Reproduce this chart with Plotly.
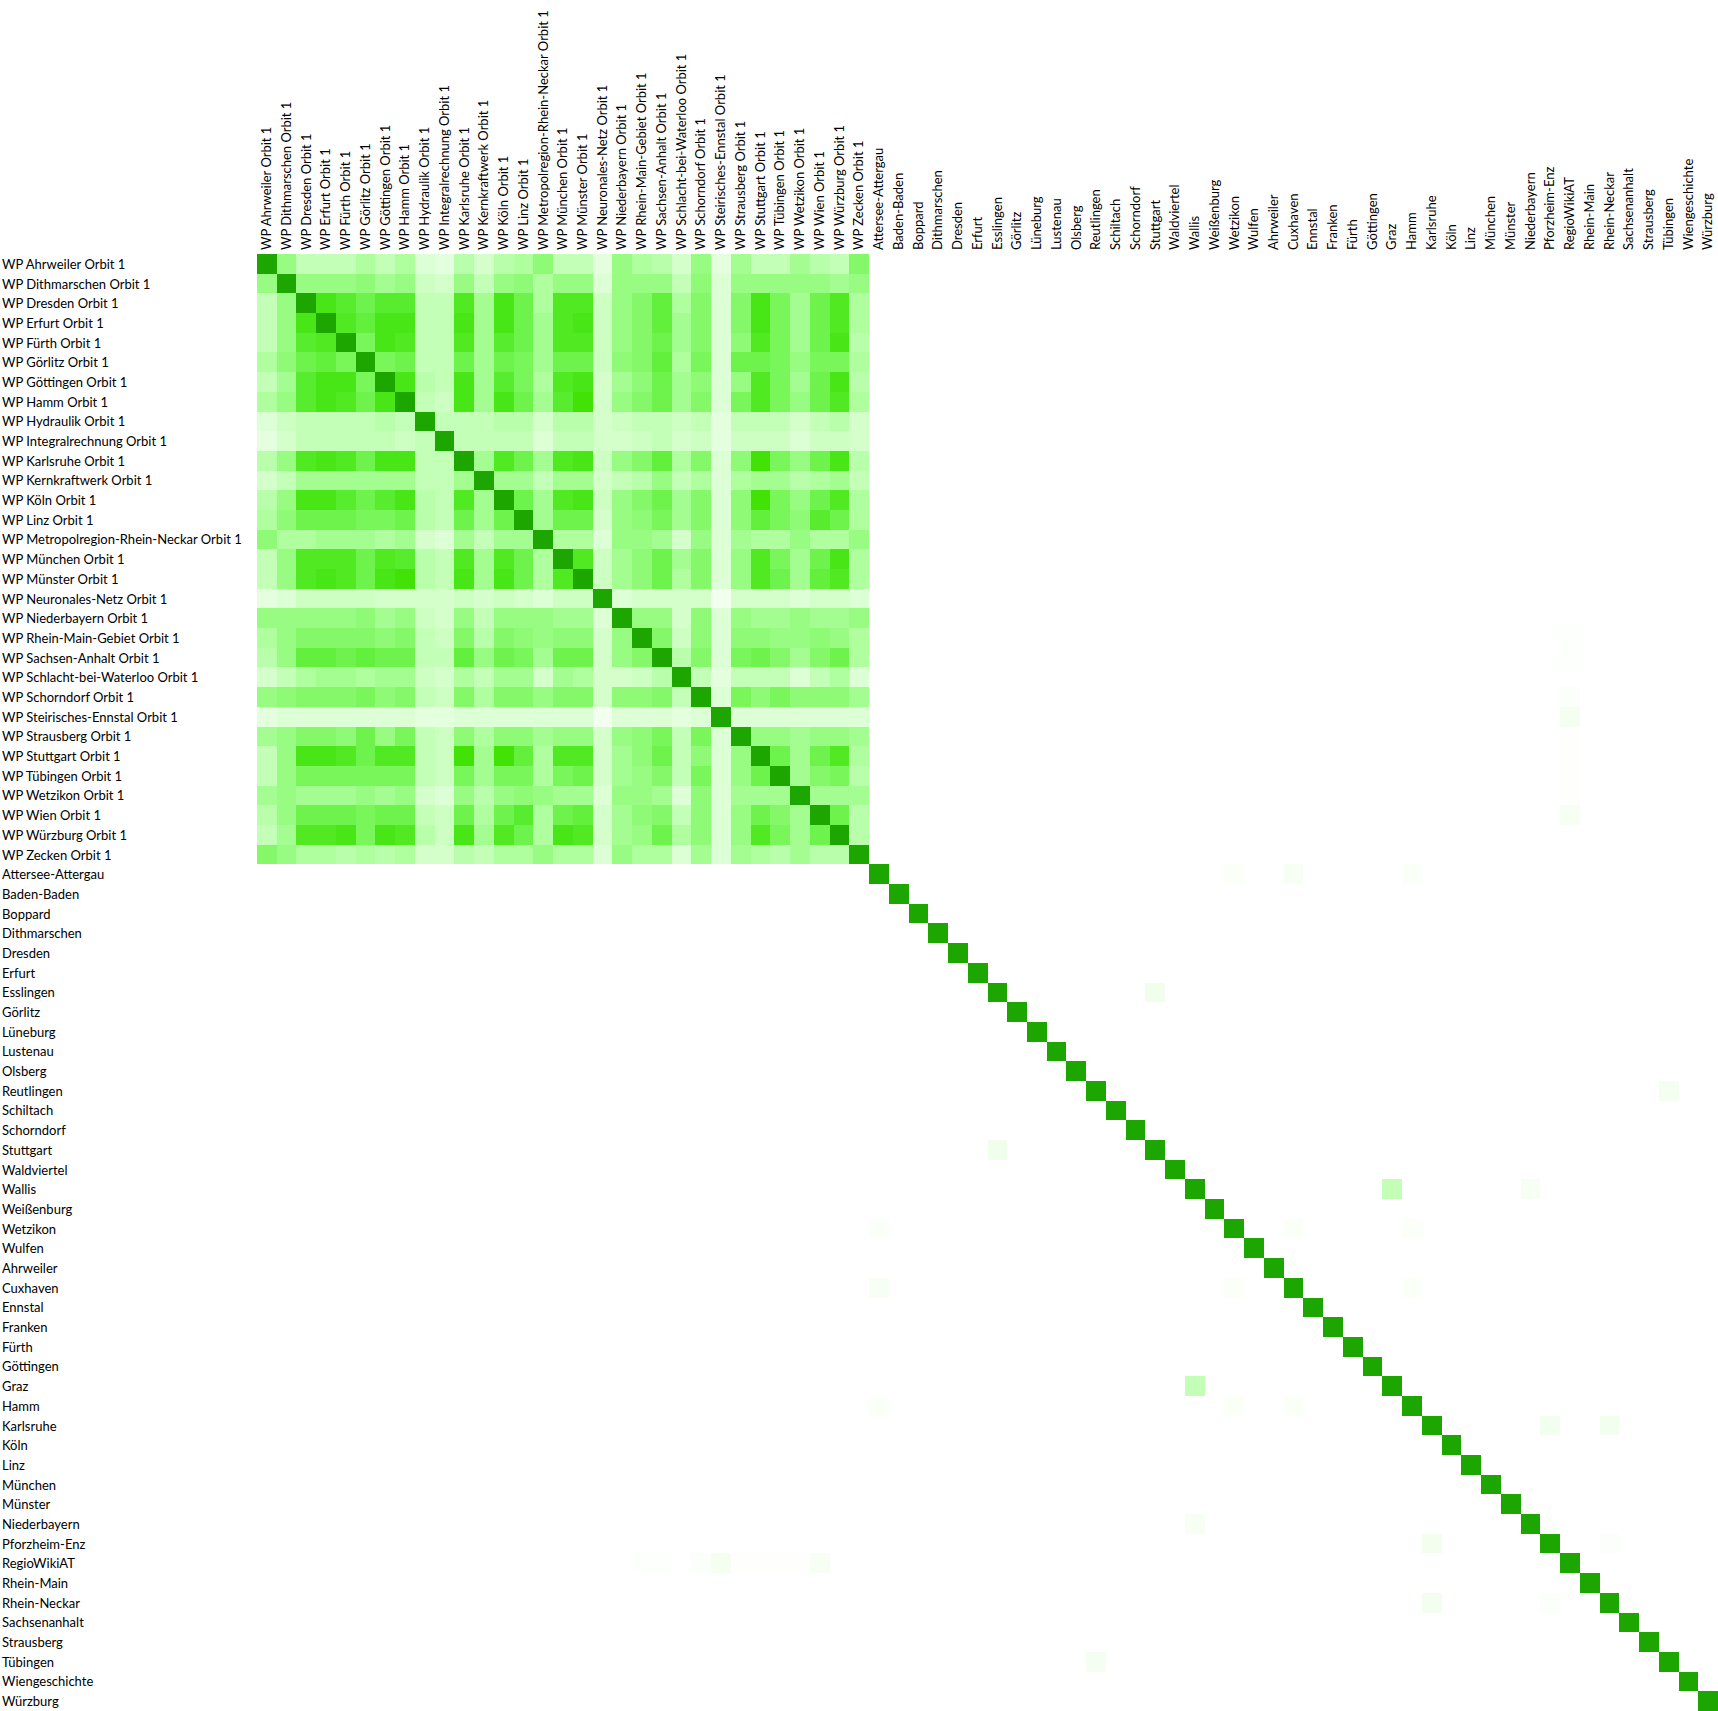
import plotly.graph_objects as go

wp_labels = [
    "WP Ahrweiler Orbit 1", "WP Dithmarschen Orbit 1", "WP Dresden Orbit 1", "WP Erfurt Orbit 1",
    "WP Fürth Orbit 1", "WP Görlitz Orbit 1", "WP Göttingen Orbit 1", "WP Hamm Orbit 1",
    "WP Hydraulik Orbit 1", "WP Integralrechnung Orbit 1", "WP Karlsruhe Orbit 1",
    "WP Kernkraftwerk Orbit 1", "WP Köln Orbit 1", "WP Linz Orbit 1",
    "WP Metropolregion-Rhein-Neckar Orbit 1", "WP München Orbit 1", "WP Münster Orbit 1",
    "WP Neuronales-Netz Orbit 1", "WP Niederbayern Orbit 1", "WP Rhein-Main-Gebiet Orbit 1",
    "WP Sachsen-Anhalt Orbit 1", "WP Schlacht-bei-Waterloo Orbit 1", "WP Schorndorf Orbit 1",
    "WP Steirisches-Ennstal Orbit 1", "WP Strausberg Orbit 1", "WP Stuttgart Orbit 1",
    "WP Tübingen Orbit 1", "WP Wetzikon Orbit 1", "WP Wien Orbit 1", "WP Würzburg Orbit 1",
    "WP Zecken Orbit 1",
]
wiki_labels = [
    "Attersee-Attergau", "Baden-Baden", "Boppard", "Dithmarschen", "Dresden", "Erfurt",
    "Esslingen", "Görlitz", "Lüneburg", "Lustenau", "Olsberg", "Reutlingen", "Schiltach",
    "Schorndorf", "Stuttgart", "Waldviertel", "Wallis", "Weißenburg", "Wetzikon", "Wulfen",
    "Ahrweiler", "Cuxhaven", "Ennstal", "Franken", "Fürth", "Göttingen", "Graz", "Hamm",
    "Karlsruhe", "Köln", "Linz", "München", "Münster", "Niederbayern", "Pforzheim-Enz",
    "RegioWikiAT", "Rhein-Main", "Rhein-Neckar", "Sachsenanhalt", "Strausberg", "Tübingen",
    "Wiengeschichte", "Würzburg",
]
labels = wp_labels + wiki_labels

# similarity inside the WP block, upper triangle per row (row i, columns i+1..30), in tenths
wp_upper = [
    [5, 3, 3, 3, 4, 3, 4, 1.5, 1, 3.5, 2, 3.5, 4, 5.5, 3, 3, 1, 5, 4, 3.5, 2, 5, 1, 4.5, 3, 3, 4.5, 3.5, 3, 6],
    [5, 5, 5, 5.5, 4.5, 5, 2.5, 2, 5, 3, 5, 5.5, 4, 5, 5, 1.5, 5, 5, 5, 3, 5.5, 1.5, 5, 5, 5, 5, 5, 4.5, 5],
    [9, 8, 7, 8, 8, 3, 3, 8.5, 4.5, 9, 7, 4, 8.5, 8.5, 2.5, 5, 6, 7.5, 4, 6, 1.5, 6, 9, 6.5, 4.5, 7, 8.5, 4],
    [8.5, 7.5, 9, 9, 3, 3, 9, 4.5, 9, 7, 4.5, 8.5, 9, 2.5, 5, 6, 7.5, 4.5, 6, 1.5, 6, 9, 6.5, 4.5, 7, 8.5, 4],
    [6.5, 9, 8.5, 3, 3, 8.5, 4.5, 8, 7, 4.5, 8.5, 8.5, 2.5, 5, 6, 7, 4.5, 6, 1.5, 5.5, 8.5, 6.5, 4.5, 7, 9, 3.5],
    [6.5, 7, 3, 3, 7, 4.5, 7, 6.5, 4.5, 7, 7, 2.5, 5.5, 6, 7.5, 4, 6.5, 1.5, 7, 7, 6.5, 5, 6.5, 6.5, 4],
    [9, 3.5, 3, 9, 4.5, 8, 6.5, 4, 8.5, 9, 2, 4.5, 5.5, 7, 4.5, 5.5, 1.5, 5, 8.5, 6.5, 4.5, 7, 9, 3.5],
    [3, 2.5, 9, 4.5, 9, 7, 4.5, 8, 9.5, 2, 5, 6, 7, 4.5, 6, 1.5, 6.5, 8.5, 6.5, 5, 7, 8.5, 4],
    [3, 3, 3, 3.5, 3.5, 2, 3.5, 3.5, 2, 2.5, 3, 3, 2.5, 3, 1, 3, 3, 3, 2, 3, 3.5, 2],
    [3, 3, 3, 3, 1.5, 3, 3, 2, 2, 2.5, 3, 2, 2.5, 1, 2.5, 2.5, 2.5, 1.5, 2.5, 2.5, 2],
    [4.5, 8.5, 7, 4.5, 8.5, 9, 2.5, 5, 6, 7.5, 4, 6, 1.5, 5.5, 9.5, 6.5, 5, 7, 9, 3.5],
    [4.5, 4.5, 3, 4.5, 4.5, 2, 3, 3.5, 5, 3, 4, 1.5, 4, 4.5, 4.5, 3.5, 4, 4.5, 3],
    [7, 4.5, 8.5, 9, 2.5, 5, 6, 7, 4.5, 6, 1.5, 5.5, 9.5, 6.5, 5, 7, 8.5, 4],
    [4.5, 7, 7, 2, 5, 5.5, 6.5, 4.5, 6, 1.5, 5.5, 7.5, 6.5, 5.5, 8, 7, 4],
    [4, 4, 1.5, 5, 5, 4.5, 2, 5, 1.5, 4.5, 4, 4, 5, 4, 4, 5],
    [8.5, 2.5, 4.5, 5.5, 7, 4.5, 6, 1.5, 5, 8.5, 6.5, 4.5, 7, 9, 4],
    [2.5, 4.5, 5.5, 7, 4, 6, 1.5, 5, 8.5, 7, 4.5, 7.5, 8.5, 4],
    [1.5, 2, 2, 2, 2, 0.5, 2, 2, 2, 1.5, 2, 2, 1.5],
    [5, 5, 2, 5.5, 1.5, 5, 4.5, 4.5, 5, 4.5, 4.5, 5],
    [6, 2.5, 5.5, 1.5, 5.5, 5.5, 5, 5, 5.5, 5, 4],
    [3.5, 6, 1.5, 6.5, 7, 6, 4.5, 6, 7, 4],
    [3, 1, 3, 3, 3, 1.5, 3, 4, 1.5],
    [1.5, 6.5, 5.5, 6.5, 5.5, 5.5, 5.5, 4.5],
    [1.5, 1.5, 1.5, 1.5, 1.5, 1.5, 1.5],
    [5, 5, 4.5, 5, 5, 4.5],
    [7, 4.5, 7, 8.5, 4],
    [4.5, 6, 6.5, 3.5],
    [4.5, 4.5, 4.5],
    [7, 3.5],
    [3.5],
]

# weak links elsewhere: (row, column, tenths)
sparse_pairs = [
    (31, 49, 0.2), (31, 52, 0.3), (31, 58, 0.2), (49, 52, 0.2), (49, 58, 0.2), (52, 58, 0.2),
    (37, 45, 0.6), (42, 71, 0.4), (47, 57, 3.0), (47, 64, 0.3),
    (59, 65, 0.5), (59, 68, 0.5), (65, 68, 0.15),
    (66, 23, 0.4), (66, 28, 0.3), (66, 19, 0.1), (66, 20, 0.1), (66, 22, 0.15),
    (66, 24, 0.05), (66, 25, 0.05), (66, 26, 0.05), (66, 27, 0.05),
]

n = len(labels)
z = [[0.0] * n for _ in range(n)]
for i in range(n):
    z[i][i] = 1.0
for i, row in enumerate(wp_upper):
    for k, v in enumerate(row):
        j = i + 1 + k
        z[i][j] = z[j][i] = v / 10
for i, j, v in sparse_pairs:
    z[i][j] = z[j][i] = v / 10

greens = [
    [0.0, "rgb(255,255,255)"], [0.1, "rgb(228,255,222)"], [0.2, "rgb(212,255,203)"],
    [0.3, "rgb(195,255,183)"], [0.4, "rgb(175,255,158)"], [0.5, "rgb(152,251,130)"],
    [0.6, "rgb(132,248,104)"], [0.7, "rgb(110,243,76)"], [0.8, "rgb(88,236,46)"],
    [0.9, "rgb(72,230,22)"], [0.95, "rgb(66,226,6)"], [1.0, "rgb(30,166,0)"],
]

fig = go.Figure(go.Heatmap(
    z=z, x=list(range(n)), y=list(range(n)),
    colorscale=greens, zmin=0, zmax=1, showscale=False,
    customdata=[[labels[j] for j in range(n)] for _ in range(n)],
    hovertemplate="%{customdata}<br>%{z:.2f}<extra></extra>",
))

font = dict(family="Lato, 'Noto Sans', sans-serif", size=13, color="black")
ml = 257
plot_w = 1718 - ml

annotations = [
    dict(text=lab, x=-ml / plot_w, y=i, xref="paper", yref="y",
         xanchor="left", yanchor="middle", showarrow=False, font=font)
    for i, lab in enumerate(labels)
]

fig.update_layout(
    width=1718, height=1711,
    margin=dict(l=ml, r=0, t=254, b=0, autoexpand=False),
    paper_bgcolor="white", plot_bgcolor="white",
    font=font,
    annotations=annotations,
    xaxis=dict(side="top", tickangle=-90, tickvals=list(range(n)), ticktext=labels,
               ticks="", showgrid=False, zeroline=False, showline=False,
               range=[-0.5, n - 0.5], tickfont=font, ticklabelstandoff=3),
    yaxis=dict(autorange=False, range=[n - 0.5, -0.5], showticklabels=False,
               ticks="", showgrid=False, zeroline=False, showline=False),
)

fig.write_html("out.html", config={"displayModeBar": False},
               post_script="document.body.style.margin='0';")
